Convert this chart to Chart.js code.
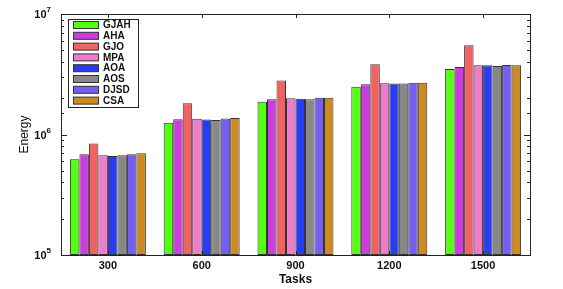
<!DOCTYPE html>
<html>
<head>
<meta charset="utf-8">
<script src="https://cdn.jsdelivr.net/npm/chart.js@4"></script>
<style>
html,body{margin:0;padding:0;background:#fff}
#wrap{width:563px;height:289px}
</style>
</head>
<body>
<div id="wrap"><canvas id="myChart"></canvas></div>
<script>
const tasks = ['300', '600', '900', '1200', '1500'];
const algos = ['GJAH', 'AHA', 'GJO', 'MPA', 'AOA', 'AOS', 'DJSD', 'CSA'];
const colors = ['#55ff11', '#cc3ddd', '#f26262', '#ee7ccc', '#2a3cf0', '#888888', '#745ff2', '#cc8a22'];

const gjah = [6.23e5, 1.25e6, 1.87e6, 2.49e6, 3.50e6];
const aha  = [6.85e5, 1.34e6, 1.96e6, 2.61e6, 3.63e6];
const gjo  = [8.40e5, 1.82e6, 2.80e6, 3.83e6, 5.50e6];
const mpa  = [6.72e5, 1.35e6, 2.00e6, 2.66e6, 3.75e6];
const aoa  = [6.63e5, 1.33e6, 1.98e6, 2.65e6, 3.75e6];
const aos  = [6.72e5, 1.32e6, 1.96e6, 2.65e6, 3.70e6];
const djsd = [6.85e5, 1.36e6, 2.02e6, 2.69e6, 3.78e6];
const csa  = [7.00e5, 1.37e6, 2.02e6, 2.69e6, 3.75e6];

const seriesValues = [gjah, aha, gjo, mpa, aoa, aos, djsd, csa];
// decade tick labels: base and exponent
const yTickExp = {100000: '5', 1000000: '6', 10000000: '7'};

const datasets = algos.map((name, i) => ({
  label: name,
  data: seriesValues[i],
  backgroundColor: colors[i],
  borderColor: '#333333',
  borderWidth: 1,
  borderSkipped: false,
  categoryPercentage: 0.81,
  barPercentage: 1.0
}));

const FONT = '"Liberation Sans", Arial, sans-serif';

// MATLAB style box with inward ticks, 10^n labels and the legend inside the axes
const matlabAxes = {
  id: 'matlabAxes',
  afterDatasetsDraw(chart) {
    const ctx = chart.ctx;
    const a = chart.chartArea;
    const ys = chart.scales.y, xs = chart.scales.x;
    ctx.save();
    ctx.strokeStyle = '#222';
    ctx.lineWidth = 1;
    ctx.beginPath();
    ys.ticks.forEach(t => {
      const py = Math.round(ys.getPixelForValue(t.value)) + 0.5;
      const major = yTickExp[t.value] !== undefined;
      const len = major ? 6 : 3;
      ctx.moveTo(a.left, py); ctx.lineTo(a.left + len, py);
      ctx.moveTo(a.right, py); ctx.lineTo(a.right - len, py);
    });
    tasks.forEach((c, i) => {
      const px = Math.round(xs.getPixelForValue(i)) + 0.5;
      ctx.moveTo(px, a.bottom); ctx.lineTo(px, a.bottom - 4);
      ctx.moveTo(px, a.top); ctx.lineTo(px, a.top + 4);
    });
    ctx.stroke();
    ctx.strokeRect(Math.round(a.left) + 0.5, Math.round(a.top) + 0.5,
                   Math.round(a.right - a.left), Math.round(a.bottom - a.top));

    // y tick labels 10^n
    ctx.fillStyle = '#111';
    ctx.textBaseline = 'middle';
    ys.ticks.forEach(t => {
      const e = yTickExp[t.value];
      if (e === undefined) return;
      const py = ys.getPixelForValue(t.value);
      ctx.font = 'bold 8px ' + FONT;
      const ew = ctx.measureText(e).width;
      const right = a.left - 10;
      ctx.textAlign = 'left';
      ctx.fillText(e, right - ew, py - 4);
      ctx.font = 'bold 11px ' + FONT;
      ctx.textAlign = 'right';
      ctx.fillText('10', right - ew, py + 1);
    });

    // legend
    const lx = a.left + 7, ly = a.top + 5, lw = 70, lh = 88, row = 10.8;
    ctx.fillStyle = '#fff';
    ctx.fillRect(lx, ly, lw, lh);
    ctx.strokeStyle = '#222';
    ctx.strokeRect(lx + 0.5, ly + 0.5, lw, lh);
    ctx.font = 'bold 10px ' + FONT;
    ctx.textAlign = 'left';
    ctx.textBaseline = 'middle';
    chart.data.datasets.forEach((d, i) => {
      const cy = ly + 6 + row * i;
      ctx.fillStyle = d.backgroundColor;
      ctx.fillRect(lx + 5, cy - 3.5, 26, 7);
      ctx.strokeStyle = '#333';
      ctx.strokeRect(lx + 5.5, cy - 3.5, 25, 7);
      ctx.fillStyle = '#111';
      ctx.fillText(d.label, lx + 35, cy + 0.5);
    });
    ctx.restore();
  }
};

const config = {
  type: 'bar',
  data: { labels: tasks, datasets },
  options: {
    responsive: true,
    maintainAspectRatio: false,
    animation: false,
    layout: { padding: { top: 14, right: 33, left: 0, bottom: 0 } },
    plugins: { legend: { display: false }, tooltip: { enabled: false } },
    scales: {
      x: {
        grid: { display: false, drawTicks: false },
        border: { display: false },
        ticks: { color: '#111', font: { family: FONT, size: 11, weight: 'bold' }, padding: 4 },
        title: { display: true, text: 'Tasks', color: '#111', padding: { top: 0, bottom: 2 },
                 font: { family: FONT, size: 12, weight: 'bold' } },
        afterFit(scale) { scale.height = 34; }
      },
      y: {
        type: 'logarithmic',
        min: 1e5,
        max: 1e7,
        grid: { display: false, drawTicks: false },
        border: { display: false },
        ticks: { autoSkip: false, display: false },
        title: { display: true, text: 'Energy', color: '#111', padding: { top: 17, bottom: 0 },
                 font: { family: FONT, size: 12 } },
        afterFit(scale) { scale.width = 61; }
      }
    }
  },
  plugins: [matlabAxes]
};

new Chart(document.getElementById('myChart'), config);
</script>
</body>
</html>
